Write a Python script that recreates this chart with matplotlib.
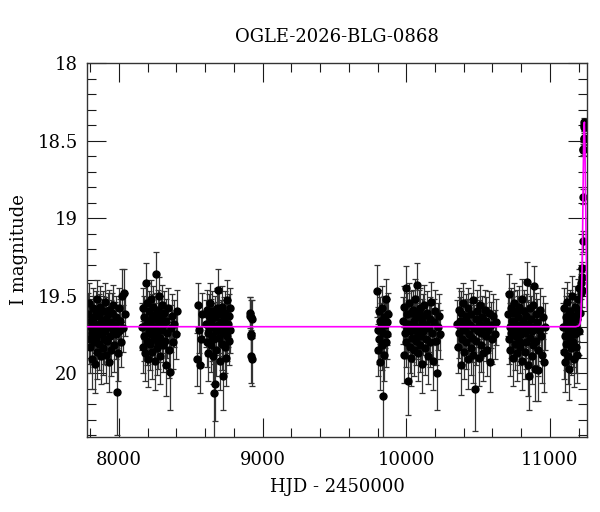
import numpy as np
import matplotlib
matplotlib.use("Agg")
import matplotlib.pyplot as plt
from matplotlib.ticker import MultipleLocator

# light curve data, season by season (HJD - 2450000, I mag, error)
s1_t = [7786, 7790, 7795, 7799, 7803, 7806, 7810, 7813, 7817, 7821,
        7824, 7828, 7831, 7835, 7838, 7842, 7846, 7849, 7853, 7856,
        7860, 7864, 7867, 7871, 7875, 7879, 7882, 7886, 7890, 7893,
        7897, 7901, 7905, 7909, 7913, 7917, 7921, 7925, 7929, 7933,
        7938, 7942, 7947, 7951, 7956, 7961, 7966, 7971, 7977, 7982,
        7986, 7992, 7998, 8004, 8010, 8017, 8024, 8031, 8038, 8044]
s1_m = [19.62, 19.78, 19.55, 19.83, 19.70, 19.66, 19.91, 19.74, 19.58, 19.69,
        19.80, 19.64, 19.94, 19.72, 19.60, 19.77, 19.52, 19.86, 19.68, 19.75,
        19.63, 19.81, 19.71, 19.57, 19.89, 19.66, 19.74, 19.60, 19.84, 19.69,
        19.78, 19.54, 19.73, 19.88, 19.65, 19.79, 19.62, 19.70, 19.93, 19.59,
        19.76, 19.67, 19.85, 19.61, 19.72, 19.56, 19.82, 19.69, 19.75, 19.64,
        20.12, 19.87, 19.58, 19.73, 19.66, 19.80, 19.50, 19.71, 19.48, 19.62]
s1_e = [0.14, 0.16, 0.13, 0.17, 0.15, 0.14, 0.19, 0.15, 0.13, 0.15,
        0.16, 0.14, 0.19, 0.15, 0.13, 0.16, 0.12, 0.18, 0.15, 0.16,
        0.14, 0.17, 0.15, 0.13, 0.18, 0.14, 0.16, 0.13, 0.17, 0.15,
        0.16, 0.12, 0.15, 0.18, 0.14, 0.16, 0.14, 0.15, 0.19, 0.13,
        0.16, 0.14, 0.17, 0.13, 0.15, 0.13, 0.17, 0.15, 0.16, 0.14,
        0.28, 0.18, 0.13, 0.15, 0.14, 0.16, 0.17, 0.15, 0.15, 0.14]

s2_t = [8162, 8166, 8170, 8174, 8178, 8182, 8186, 8189, 8193, 8196,
        8200, 8203, 8207, 8210, 8214, 8217, 8221, 8224, 8228, 8231,
        8235, 8238, 8242, 8245, 8249, 8252, 8256, 8259, 8263, 8266,
        8270, 8273, 8277, 8281, 8285, 8289, 8293, 8297, 8301, 8305,
        8310, 8315, 8320, 8325, 8331, 8337, 8343, 8349, 8355, 8362,
        8369, 8377, 8385, 8394, 8403]
s2_m = [19.70, 19.58, 19.83, 19.64, 19.76, 19.87, 19.42, 19.69, 19.55, 19.79,
        19.66, 19.91, 19.73, 19.60, 19.81, 19.68, 19.52, 19.75, 19.63, 19.86,
        19.71, 19.57, 19.78, 19.65, 19.92, 19.70, 19.36, 19.62, 19.84, 19.74,
        19.59, 19.80, 19.67, 19.50, 19.77, 19.89, 19.64, 19.72, 19.56, 19.82,
        19.69, 19.61, 19.79, 19.95, 19.66, 19.74, 19.58, 19.85, 19.99, 19.71,
        19.63, 19.80, 19.68, 19.75, 19.60]
s2_e = [0.15, 0.13, 0.17, 0.14, 0.16, 0.18, 0.13, 0.15, 0.13, 0.16,
        0.14, 0.18, 0.15, 0.13, 0.17, 0.15, 0.12, 0.16, 0.14, 0.18,
        0.15, 0.13, 0.16, 0.14, 0.19, 0.15, 0.14, 0.14, 0.17, 0.16,
        0.13, 0.17, 0.15, 0.12, 0.16, 0.18, 0.14, 0.15, 0.13, 0.17,
        0.15, 0.14, 0.16, 0.20, 0.14, 0.16, 0.13, 0.18, 0.25, 0.15,
        0.14, 0.17, 0.15, 0.16, 0.14]

s3_t = [8543, 8550, 8556, 8563, 8570, 8577,
        8606, 8610, 8614, 8618, 8622, 8626, 8630, 8634, 8638, 8642,
        8646, 8650, 8654, 8658, 8662, 8665, 8668, 8671, 8675, 8679,
        8683, 8687, 8691, 8695, 8699, 8703, 8707, 8711, 8715, 8719,
        8723, 8727, 8731, 8735, 8739, 8743, 8747, 8751, 8755, 8759,
        8763, 8767, 8771, 8775]
s3_m = [19.91, 19.56, 19.72, 19.95, 19.78, 19.62,
        19.68, 19.80, 19.59, 19.74, 19.87, 19.63, 19.71, 19.55, 19.82, 19.66,
        19.76, 19.60, 19.89, 19.70, 19.78, 20.13, 20.07, 19.64, 19.73, 19.85,
        19.58, 19.69, 19.46, 19.77, 19.62, 19.92, 19.72, 19.67, 19.81, 19.57,
        20.02, 19.74, 19.65, 19.83, 19.61, 19.70, 19.90, 19.76, 19.53, 19.68,
        19.79, 19.63, 19.72, 19.58]
s3_e = [0.17, 0.14, 0.15, 0.18, 0.16, 0.14,
        0.15, 0.16, 0.13, 0.15, 0.18, 0.14, 0.15, 0.13, 0.17, 0.14,
        0.16, 0.13, 0.18, 0.15, 0.16, 0.30, 0.24, 0.14, 0.15, 0.17,
        0.13, 0.15, 0.13, 0.16, 0.14, 0.19, 0.15, 0.14, 0.17, 0.13,
        0.22, 0.15, 0.14, 0.17, 0.14, 0.15, 0.18, 0.16, 0.13, 0.15,
        0.16, 0.14, 0.15, 0.13]

s4_t = [8912, 8914, 8916, 8918, 8919, 8921, 8923, 8925]
s4_m = [19.61, 19.63, 19.64, 19.75, 19.76, 19.89, 19.91, 19.65]
s4_e = [0.10, 0.12, 0.11, 0.14, 0.13, 0.17, 0.17, 0.12]

s5_t = [9796, 9800, 9804, 9808, 9812, 9816, 9820, 9824, 9828, 9832,
        9836, 9840, 9844, 9848, 9852, 9856, 9860, 9864, 9868, 9871,
        9978, 9982, 9987, 9991, 9995, 9999, 10003, 10007, 10011, 10015,
        10019, 10023, 10027, 10031, 10035, 10039, 10043, 10047, 10051, 10055,
        10059, 10063, 10067, 10071, 10075, 10079, 10083, 10087, 10091, 10095,
        10099, 10103, 10107, 10111, 10115, 10120, 10125, 10130, 10135, 10140,
        10145, 10150, 10156, 10162, 10168, 10174, 10180, 10186, 10192, 10199,
        10206, 10213, 10220, 10228, 10236]
s5_m = [19.47, 19.72, 19.85, 19.60, 19.78, 19.66, 19.93, 19.70, 19.58, 19.82,
        20.15, 19.74, 19.64, 19.88, 19.69, 19.52, 19.80, 19.67, 19.75, 19.62,
        19.66, 19.88, 19.57, 19.74, 19.45, 19.80, 19.62, 19.71, 20.05, 19.68,
        19.55, 19.83, 19.73, 19.61, 19.90, 19.69, 19.77, 19.59, 19.85, 19.66,
        19.72, 19.52, 19.79, 19.64, 19.43, 19.75, 19.87, 19.60, 19.70, 19.82,
        19.58, 19.76, 19.67, 19.94, 19.63, 19.73, 19.56, 19.84, 19.69, 19.78,
        19.61, 19.89, 19.71, 19.65, 19.80, 19.54, 19.74, 19.92, 19.67, 19.60,
        19.79, 20.00, 19.70, 19.63, 19.75]
s5_e = [0.17, 0.15, 0.17, 0.14, 0.16, 0.15, 0.18, 0.15, 0.14, 0.16,
        0.28, 0.15, 0.14, 0.17, 0.15, 0.13, 0.16, 0.15, 0.16, 0.14,
        0.15, 0.18, 0.13, 0.16, 0.14, 0.16, 0.14, 0.15, 0.22, 0.15,
        0.13, 0.17, 0.15, 0.14, 0.18, 0.15, 0.16, 0.13, 0.17, 0.15,
        0.15, 0.13, 0.16, 0.14, 0.14, 0.16, 0.18, 0.14, 0.15, 0.17,
        0.13, 0.16, 0.15, 0.19, 0.14, 0.15, 0.13, 0.17, 0.15, 0.16,
        0.14, 0.18, 0.15, 0.14, 0.16, 0.13, 0.16, 0.19, 0.15, 0.14,
        0.16, 0.24, 0.15, 0.14, 0.16]

s6_t = [10354, 10359, 10364, 10369, 10374, 10379, 10384, 10388, 10393, 10398,
        10403, 10408, 10413, 10418, 10423, 10428, 10433, 10438, 10443, 10448,
        10453, 10458, 10463, 10468, 10473, 10478, 10483, 10488, 10493, 10498,
        10503, 10508, 10513, 10518, 10523, 10528, 10534, 10540, 10546, 10552,
        10558, 10564, 10570, 10576, 10583, 10590, 10598, 10606, 10615, 10624]
s6_m = [19.68, 19.83, 19.59, 19.74, 19.66, 19.95, 19.61, 19.78, 19.70, 19.55,
        19.86, 19.72, 19.63, 19.80, 19.67, 19.91, 19.58, 19.75, 19.69, 19.84,
        19.62, 19.77, 19.53, 19.88, 19.71, 20.10, 19.65, 19.79, 19.60, 19.73,
        19.90, 19.68, 19.56, 19.82, 19.74, 19.64, 19.87, 19.70, 19.59, 19.76,
        19.66, 19.85, 19.72, 19.61, 19.93, 19.69, 19.78, 19.63, 19.75, 19.67]
s6_e = [0.15, 0.17, 0.14, 0.16, 0.15, 0.19, 0.14, 0.16, 0.15, 0.13,
        0.18, 0.15, 0.14, 0.17, 0.15, 0.19, 0.13, 0.16, 0.15, 0.17,
        0.14, 0.16, 0.13, 0.18, 0.15, 0.27, 0.14, 0.16, 0.14, 0.15,
        0.18, 0.15, 0.13, 0.17, 0.16, 0.14, 0.18, 0.15, 0.13, 0.16,
        0.15, 0.17, 0.15, 0.14, 0.19, 0.15, 0.16, 0.14, 0.16, 0.15]

s7_t = [10708, 10712, 10716, 10720, 10724, 10728, 10732, 10736, 10740, 10744,
        10748, 10752, 10756, 10760, 10764, 10768, 10772, 10776, 10780, 10784,
        10788, 10792, 10796, 10800, 10804, 10808, 10812, 10816, 10820, 10824,
        10828, 10832, 10836, 10840, 10844, 10848, 10852, 10856, 10860, 10864,
        10868, 10872, 10876, 10880, 10884, 10888, 10892, 10896, 10900, 10905,
        10910, 10915, 10920, 10926, 10932, 10938, 10944, 10951, 10958, 10966]
s7_m = [19.62, 19.78, 19.49, 19.70, 19.85, 19.58, 19.74, 19.66, 19.90, 19.61,
        19.73, 19.55, 19.81, 19.68, 19.76, 19.60, 19.87, 19.71, 19.64, 19.79,
        19.57, 19.83, 19.69, 19.75, 19.52, 19.92, 19.66, 19.72, 19.60, 19.86,
        19.74, 19.63, 19.80, 19.41, 19.68, 19.95, 19.71, 20.02, 19.58, 19.77,
        19.65, 19.89, 19.73, 19.56, 19.82, 19.44, 19.70, 19.97, 19.62, 19.79,
        19.67, 19.85, 19.98, 19.72, 19.59, 19.76, 19.88, 19.64, 19.93, 19.70]
s7_e = [0.14, 0.16, 0.13, 0.15, 0.17, 0.13, 0.16, 0.15, 0.18, 0.14,
        0.15, 0.13, 0.17, 0.15, 0.16, 0.14, 0.18, 0.15, 0.14, 0.16,
        0.13, 0.17, 0.15, 0.16, 0.13, 0.19, 0.15, 0.15, 0.14, 0.18,
        0.16, 0.14, 0.17, 0.13, 0.15, 0.20, 0.15, 0.22, 0.14, 0.16,
        0.15, 0.18, 0.15, 0.13, 0.17, 0.13, 0.15, 0.21, 0.14, 0.16,
        0.15, 0.17, 0.20, 0.15, 0.14, 0.16, 0.18, 0.14, 0.19, 0.15]

s8_t = [11092, 11096, 11099, 11103, 11106, 11110, 11113, 11117, 11120, 11124,
        11127, 11131, 11134, 11138, 11141, 11145, 11148, 11152, 11155, 11159,
        11162, 11166, 11169, 11173, 11176, 11180, 11183, 11187, 11190, 11194,
        11197, 11201, 11205, 11209, 11213,
        11217, 11220, 11223, 11225, 11227, 11230, 11232, 11233, 11235, 11236,
        11237, 11238, 11239]
s8_m = [19.70, 19.86, 19.58, 19.76, 19.93, 19.64, 19.81, 19.67, 19.54, 19.89,
        19.72, 19.62, 19.97, 19.78, 19.60, 19.74, 19.84, 19.66, 19.50, 19.80,
        19.69, 19.91, 19.63, 19.75, 19.57, 19.83, 19.71, 19.65, 19.88, 19.59,
        19.52, 19.73, 19.45, 19.61, 19.48,
        19.42, 19.38, 19.46, 19.32, 19.15, 18.86, 18.56, 18.55, 18.49, 18.48,
        18.41, 18.38, 18.40]
s8_e = [0.15, 0.18, 0.13, 0.16, 0.19, 0.14, 0.17, 0.15, 0.13, 0.18,
        0.15, 0.14, 0.20, 0.16, 0.14, 0.16, 0.17, 0.15, 0.13, 0.16,
        0.15, 0.18, 0.14, 0.16, 0.13, 0.17, 0.15, 0.14, 0.18, 0.13,
        0.13, 0.15, 0.12, 0.14, 0.12,
        0.10, 0.10, 0.11, 0.09, 0.07, 0.05, 0.04, 0.04, 0.04, 0.04,
        0.03, 0.03, 0.03]

# fitted model curve
model_t = [7780, 11180, 11200, 11210, 11215, 11220, 11224, 11228, 11232,
           11236, 11240, 11244, 11248, 11252, 11256, 11260]
model_m = [19.70, 19.70, 19.695, 19.68, 19.64, 19.50, 19.32, 19.05, 18.70,
           18.42, 18.38, 18.55, 18.85, 19.15, 19.42, 19.59]

title = "OGLE-2026-BLG-0868"

t = np.concatenate([s1_t, s2_t, s3_t, s4_t, s5_t, s6_t, s7_t, s8_t])
m = np.concatenate([s1_m, s2_m, s3_m, s4_m, s5_m, s6_m, s7_m, s8_m])
e = np.concatenate([s1_e, s2_e, s3_e, s4_e, s5_e, s6_e, s7_e, s8_e])

plt.rcParams['font.family'] = ['DejaVu Serif']

fig = plt.figure(figsize=(6, 5.12), dpi=100)
ax = fig.add_axes([0.1455, 0.147, 0.8333, 0.7294])

ax.errorbar(t, m, yerr=e, fmt='o', ms=5, mfc='k', mec='k', ecolor='0.2',
            elinewidth=0.9, capsize=2.5, capthick=0.9, zorder=2)
ax.plot(model_t, model_m, color='#ff00ff', lw=1.2, zorder=3)

ax.set_xlim(7780, 11260)
ax.set_ylim(20.41, 18.0)
ax.xaxis.set_major_locator(MultipleLocator(1000))
ax.xaxis.set_minor_locator(MultipleLocator(200))
ax.yaxis.set_major_locator(MultipleLocator(0.5))
ax.yaxis.set_minor_locator(MultipleLocator(0.1))
ax.yaxis.set_major_formatter(plt.FuncFormatter(lambda v, p: f"{v:g}"))
ax.tick_params(which='both', direction='in', top=True, right=True,
               labelsize=13, color='0.1')
ax.tick_params(which='major', length=13.5, width=0.8)
ax.tick_params(which='minor', length=6.5, width=0.8)
ax.tick_params(axis='x', which='major', pad=10)
ax.tick_params(axis='y', which='major', pad=7)
for s in ax.spines.values():
    s.set_linewidth(1.0)
    s.set_color('0.2')

ax.set_xlabel("HJD - 2450000", fontsize=13, labelpad=7)
ax.set_ylabel("I magnitude", fontsize=13, labelpad=7)
ax.set_title(title, fontsize=13, pad=15)

fig.savefig("out.png", dpi=100)
